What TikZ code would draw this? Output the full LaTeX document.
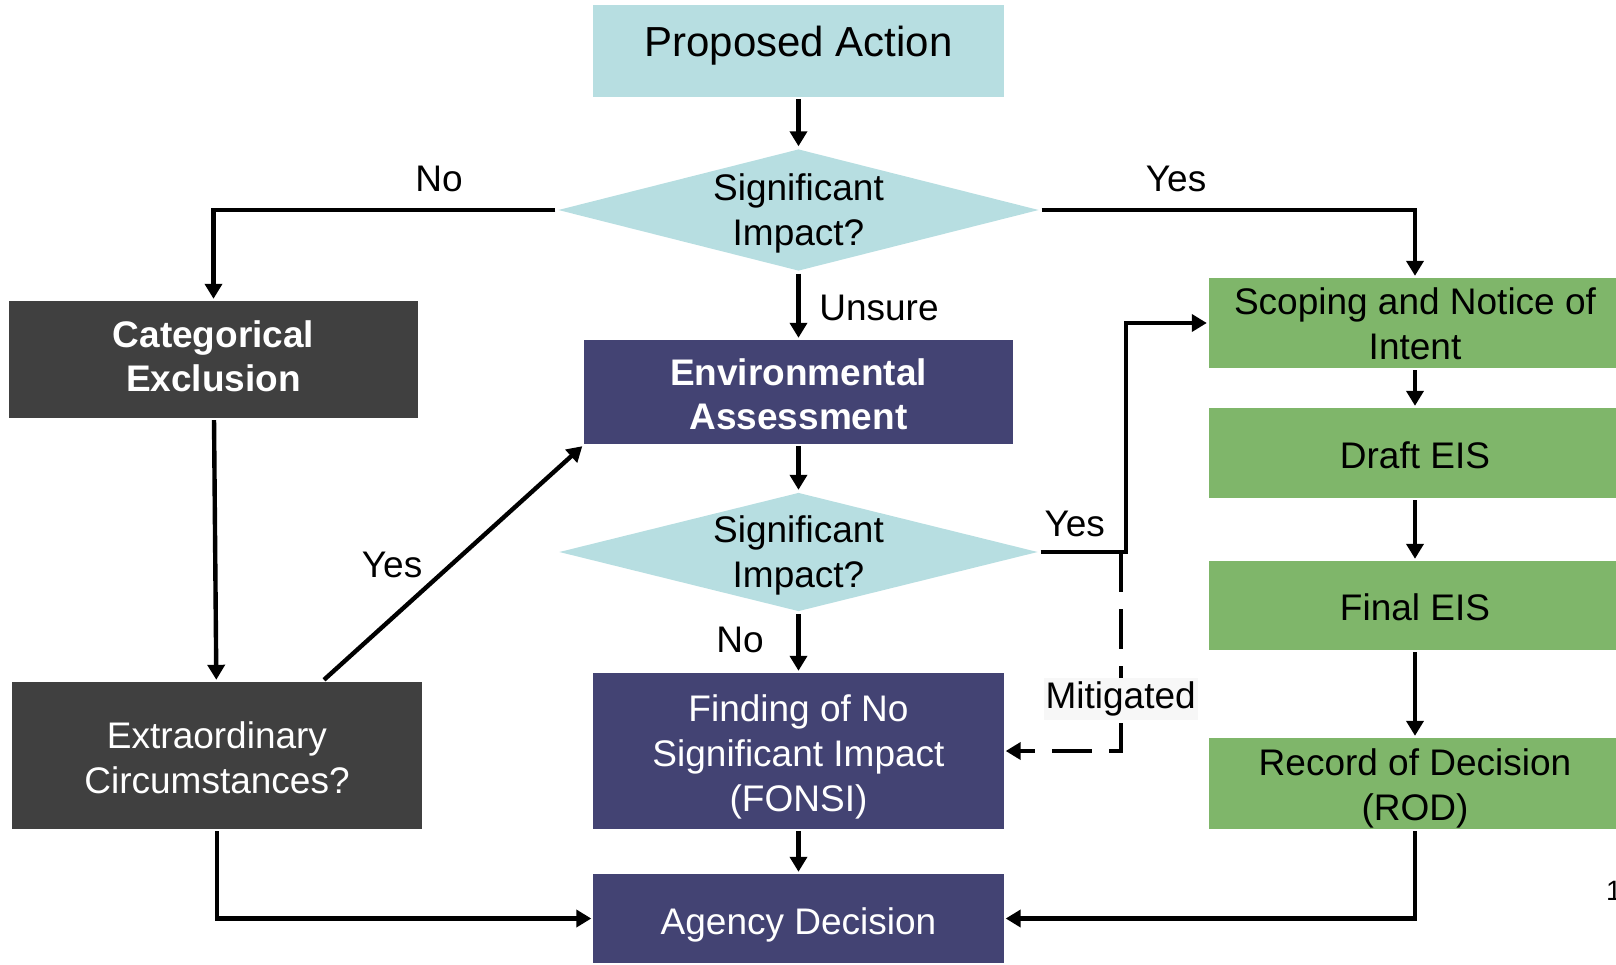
\documentclass[tikz,border=0pt]{standalone}
\usepackage{fontspec}
\setmainfont{Liberation Sans}
\usepackage{tikz}
\usepackage{xcolor}
\tikzset{font={\fontsize{18.5pt}{22.5pt}\selectfont}}
\usetikzlibrary{arrows.meta,shapes.geometric}
\definecolor{paleblue}{HTML}{B7DEE1}
\definecolor{navy}{HTML}{434373}
\definecolor{charcoal}{HTML}{404040}
\definecolor{leaf}{HTML}{7FB66A}
\definecolor{mitgray}{HTML}{F7F7F7}

\begin{document}
\begin{tikzpicture}[->,>={Triangle[length=7.5pt,width=8.5pt]},line width=2.2pt,
                    drop/.style={text height=#1,text depth=0pt},
                    box node/.style={rectangle,inner sep=0pt,align=center,minimum width=205pt},
                    start node/.style={box node,fill=paleblue,minimum height=46pt,font=\fontsize{21pt}{25pt}\selectfont},
                    ea node/.style={box node,fill=navy,text=white},
                    cx node/.style={box node,fill=charcoal,text=white},
                    eis node/.style={box node,fill=leaf,minimum width=206pt,minimum height=45pt},
                    ask node/.style={diamond,fill=paleblue,inner sep=0pt,minimum width=241pt,minimum height=61.5pt},
                    ask text/.style={align=center,drop=35pt}]

  \useasboundingbox (-399.25pt,25.5pt) rectangle (408.75pt,-456.5pt);

  % middle column
  \node[start node,drop=5.7pt] (pa) {Proposed Action};
  \node[ask node,label={[ask text]center:{Significant\\Impact?}}] (d1) [below of=pa,node distance=79.5pt] {};
  \node[ea node,minimum width=214pt,minimum height=52pt,drop=37pt,font=\fontsize{18.5pt}{22pt}\selectfont\bfseries] (ea) [below of=d1,node distance=91pt] {Environmental\\Assessment};
  \node[ask node,minimum width=240pt,minimum height=60pt,label={[ask text]center:{Significant\\Impact?}}] (d2) [below of=ea,node distance=80pt] {};
  \node[ea node,minimum height=78pt,drop=60pt] (fonsi) [below of=d2,node distance=99.5pt] {Finding of No\\Significant Impact\\(FONSI)};
  \node[ea node,minimum height=44.5pt,drop=15.5pt] (agency) [below of=fonsi,node distance=83.75pt] {Agency Decision};

  % left column
  \node[cx node,minimum width=204.5pt,minimum height=58.5pt,drop=31.5pt,font=\fontsize{18.5pt}{22pt}\selectfont\bfseries] (cat) [below of=d1,node distance=74.75pt,xshift=-292.5pt] {Categorical\\Exclusion};
  \node[cx node,minimum height=73.5pt,drop=38pt] (extra) [below of=cat,node distance=198pt,xshift=1.75pt] {Extraordinary\\Circumstances?};

  % right column
  \node[eis node,drop=36pt] (scope) [below of=d1,node distance=56.5pt,xshift=308.25pt] {Scoping and Notice of\\Intent};
  \node[eis node,drop=15pt] (draft) [below of=scope,node distance=65pt] {Draft EIS};
  \node[eis node,minimum height=44.5pt,drop=14.5pt] (final) [below of=draft,node distance=76.25pt] {Final EIS};
  \node[eis node,minimum height=45.5pt,drop=36.5pt] (record) [below of=final,node distance=89pt] {Record of Decision\\(ROD)};

  \node[anchor=base west,inner sep=0pt,font=\fontsize{14pt}{16pt}\selectfont] (pgno) at (402.75pt,-424.5pt) {1};

  \coordinate (yesturn) at ([xshift=42.5pt]d2.east);
  \coordinate (mitturn) at ([xshift=40pt]d2.east);

  \path
    (pa) edge (d1)
    (d1) edge node[right=6pt,yshift=-1pt] {Unsure} (ea)
    (ea) edge (d2)
    (d2) edge node[left=13pt,yshift=1.5pt] {No} (fonsi)
    (fonsi) edge (agency)
    (cat) edge (extra)
    (scope) edge (draft)
    (draft) edge (final)
    (final) edge (record);

  \draw (d1.west) -| node[above=4.5pt,pos=0.17] {No} (cat.north);
  \draw (d1.east) -| node[above=4.5pt,pos=0.18] {Yes} (scope.north);
  \draw (d2.east) -- node[above=3pt,pos=0.4] {Yes} (yesturn) |- (scope.west);
  \draw[dash pattern=on 20pt off 8.5pt] (mitturn) |- node[pos=0.37,fill=mitgray,inner sep=1pt,minimum height=21pt] {Mitigated} (fonsi.east);
  \draw ([xshift=53.5pt]extra.north) -- node[left=11pt,yshift=-1pt] {Yes} (ea.south west);
  \draw (extra.south) |- (agency.west);
  \draw (record.south) |- (agency.east);
\end{tikzpicture}
\end{document}
